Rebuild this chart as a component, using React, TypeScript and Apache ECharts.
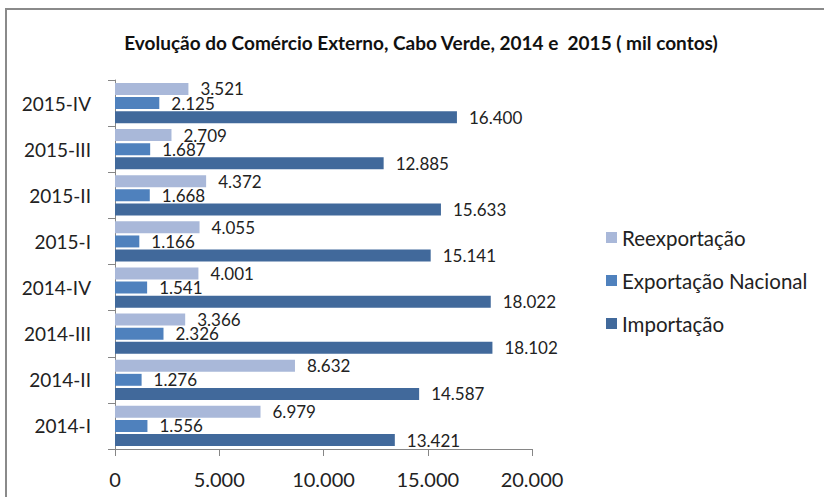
import React, { useEffect, useRef } from "react";
import * as echarts from "echarts";

const categories = ["2014-I", "2014-II", "2014-III", "2014-IV", "2015-I", "2015-II", "2015-III", "2015-IV"];
const reexportacao = [6979, 8632, 3366, 4001, 4055, 4372, 2709, 3521];
const exportacaoNacional = [1556, 1276, 2326, 1541, 1166, 1668, 1687, 2125];
const importacao = [13421, 14587, 18102, 18022, 15141, 15633, 12885, 16400];
const xTicks = [0, 5000, 10000, 15000, 20000];

const FONT = "Lato, 'Noto Sans', sans-serif";
const fmt = (v: number) => String(Math.round(v)).replace(/\B(?=(\d{3})+(?!\d))/g, ".");

export default function App() {
  const ref = useRef<HTMLDivElement>(null);
  useEffect(() => {
    document.body.style.margin = "0";
    if (!ref.current) return;
    const chart = echarts.init(ref.current, null, { renderer: "svg" });
    const label = {
      show: true,
      position: "right" as const,
      distance: 12,
      fontFamily: FONT,
      fontSize: 17,
      color: "#222",
      formatter: (p: any) => fmt(p.value),
    };
    chart.setOption({
      animation: false,
      backgroundColor: "#fff",
      textStyle: { fontFamily: FONT },
      graphic: [
        {
          type: "rect",
          shape: { x: 6, y: 9, width: 900, height: 600 },
          style: { fill: "none", stroke: "#8a8a8a", lineWidth: 2 },
          silent: true,
        },
        {
          type: "text",
          x: 421,
          y: 42,
          style: {
            text: "Evolução do Comércio Externo, Cabo Verde, 2014 e  2015 ( mil contos)",
            fontFamily: FONT,
            fontWeight: "bold",
            fontSize: 19,
            fill: "#111",
            textAlign: "center",
            textVerticalAlign: "middle",
          },
        },
      ],
      legend: {
        orient: "vertical",
        left: 601,
        top: 222,
        itemWidth: 11,
        itemHeight: 11,
        itemGap: 22,
        icon: "rect",
        data: ["Reexportação", "Exportação Nacional", "Importação"],
        textStyle: { fontFamily: FONT, fontSize: 20.5, color: "#222", lineHeight: 21 },
      },
      grid: { left: 115, right: 292, top: 80, bottom: 48 },
      xAxis: {
        type: "value",
        min: xTicks[0],
        max: xTicks[xTicks.length - 1],
        interval: xTicks[1] - xTicks[0],
        splitLine: { show: false },
        axisLine: { show: true, lineStyle: { color: "#868686", width: 1 } },
        axisTick: { show: true, length: 7, lineStyle: { color: "#868686" } },
        axisLabel: { fontFamily: FONT, fontSize: 20, color: "#222", margin: 20, formatter: (v: number) => fmt(v) },
      },
      yAxis: {
        type: "category",
        data: categories,
        axisLine: { show: true, lineStyle: { color: "#868686", width: 1 } },
        axisTick: { show: true, length: 7, lineStyle: { color: "#868686" } },
        axisLabel: { fontFamily: FONT, fontSize: 19, color: "#222", margin: 24 },
      },
      series: [
        {
          name: "Reexportação",
          type: "bar",
          data: reexportacao,
          itemStyle: { color: "#A9B8D9" },
          barCategoryGap: "13%",
          barGap: "18%",
          label,
        },
        {
          name: "Exportação Nacional",
          type: "bar",
          data: exportacaoNacional,
          itemStyle: { color: "#4F81BD" },
          barGap: "18%",
          label,
        },
        {
          name: "Importação",
          type: "bar",
          data: importacao,
          itemStyle: { color: "#41699B" },
          barGap: "18%",
          label,
        },
      ],
    });
    return () => chart.dispose();
  }, []);
  return <div ref={ref} style={{ width: 824, height: 497 }} />;
}
